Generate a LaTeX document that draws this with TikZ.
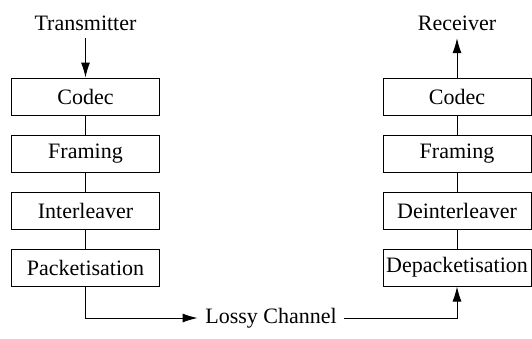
\documentclass[tikz,border=0pt]{standalone}
\usepackage{fontspec}
\setmainfont{Liberation Serif}
\usetikzlibrary{positioning,arrows.meta}

\begin{document}
\begin{tikzpicture}[x=0.5bp,y=-0.5bp,line cap=rect]
  \tikzstyle{block}=[draw,line width=0.5bp,minimum width=74bp,minimum height=18.5bp,inner sep=1bp];
  \tikzstyle{flow}=[line width=0.5bp,-{Latex[length=7.5bp,width=4.5bp]}];
  \tikzstyle{link}=[line width=0.5bp];
  \useasboundingbox (0,0) rectangle (532,338);
  \fontsize{11bp}{13bp}\selectfont

  % transmitter side
  \node (tx) at (85.5, 23) {Transmitter};
  \node[block] (tcodec) at (85.5, 96.5) {Codec};
  \node[block, below=9.5bp of tcodec] (tframe) {Framing};
  \node[block, below=9.5bp of tframe] (tinter) {Interleaver};
  \node[block, below=9.5bp of tinter] (tpack) {Packetisation};
  \draw [flow] (tx) -- (tcodec);
  \draw [link] (tcodec) -- (tframe);
  \draw [link] (tframe) -- (tinter);
  \draw [link] (tinter) -- (tpack);

  % receiver side
  \node (rx) at (457, 23) {Receiver};
  \node[block] (rcodec) at (457, 96.5) {Codec};
  \node[block, below=9.5bp of rcodec] (rframe) {Framing};
  \node[block, below=9.5bp of rframe] (rinter) {Deinterleaver};
  \node[block, below=9.5bp of rinter] (rpack) {Depacketisation};
  \draw [flow] (rcodec) -- (rx);
  \draw [link] (rcodec) -- (rframe);
  \draw [link] (rframe) -- (rinter);
  \draw [link] (rinter) -- (rpack);

  % channel
  \node (chan) at (271, 318) {Lossy Channel};
  \draw [flow] (tpack) |- (chan);
  \draw [flow] (chan) -| (rpack);
\end{tikzpicture}
\end{document}
